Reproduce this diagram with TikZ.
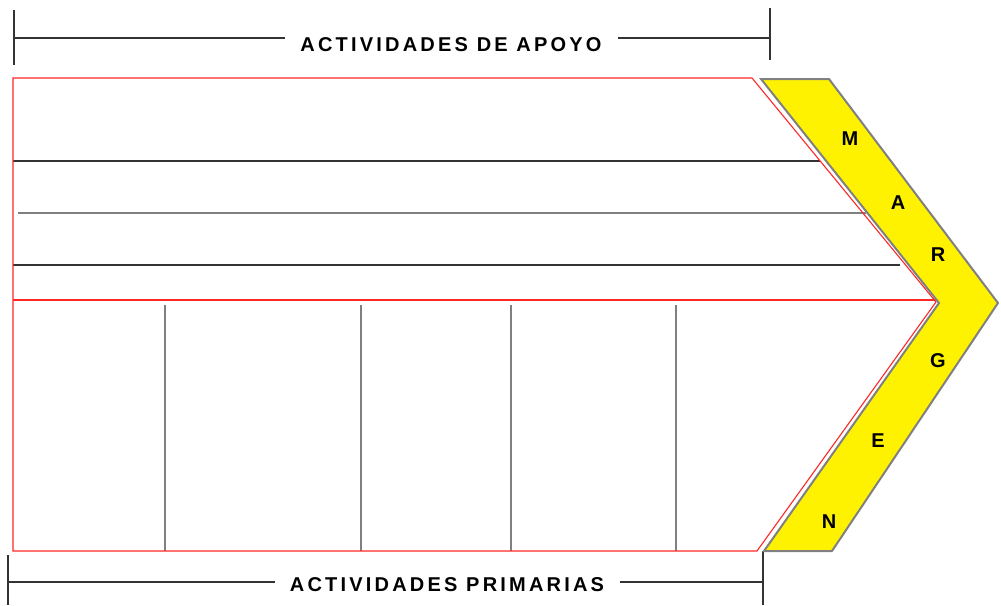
\documentclass[tikz,border=0pt]{standalone}
\usepackage{fontspec}
\setmainfont{Liberation Sans}
\newfontfamily\labfont[LetterSpace=16]{Liberation Sans Bold}
\begin{document}
\begin{tikzpicture}[x=1pt,y=-1pt,
  redline/.style={draw=red!85!white,line width=1.1pt},
  blk/.style={draw=black!80,line width=1.3pt},
  gry/.style={draw=black!50,line width=1.6pt},
  brk/.style={draw=black!80,line width=1.2pt},
  lbl/.style={font=\labfont\fontsize{20}{22}\selectfont,inner sep=0pt},
  let/.style={font=\bfseries\fontsize{20}{22}\selectfont,inner sep=0pt}]
\useasboundingbox (0,0) rectangle (1001,605);
% top bracket
\node[lbl] (apoyo) at (451,45) {ACTIVIDADES DE APOYO};
\coordinate (tl) at (14,38); \coordinate (tr) at (770,38);
\coordinate (tla) at (285,38); \coordinate (tra) at (618,38);
\draw[brk] (14,10) -- (14,65);
\draw[brk] (770,8) -- (770,60);
\draw[brk] (tl) -- (tla);
\draw[brk] (tra) -- (tr);
% bottom bracket
\node[lbl] (prim) at (447,585) {ACTIVIDADES PRIMARIAS};
\coordinate (bl) at (8,582); \coordinate (br) at (763,582);
\coordinate (bla) at (275,582); \coordinate (bra) at (620,582);
\draw[brk] (8,555) -- (8,605);
\draw[brk] (763,551) -- (763,605);
\draw[brk] (bl) -- (bla);
\draw[brk] (bra) -- (br);
% support lines
\draw[blk] (13,161) -- (820,161);
\draw[gry] (18,213) -- (866,213);
\draw[blk] (13,265) -- (900,265);
% primary dividers
\foreach \x in {165,361,511,676}{\draw[gry,line width=1.4pt] (\x,305) -- (\x,551);}
% red outline
\draw[redline] (13,78) -- (752,78) -- (936,302) -- (757,551) -- (13,551) -- cycle;
\draw[redline] (13,300) -- (936,300);
% yellow chevron
\draw[draw=black!50,line width=2pt,fill=yellow,line join=miter] (761,79) -- (829,79) -- (998,303) -- (832,551) -- (764,551) -- (939,303) -- cycle;
\node[let] (m) at (850,139) {M};
\node[let] (a) at (898,203) {A};
\node[let] (r) at (938,255) {R};
\node[let] (g) at (938,361) {G};
\node[let] (e) at (878,441) {E};
\node[let] (n) at (829,522) {N};
\end{tikzpicture}
\end{document}
